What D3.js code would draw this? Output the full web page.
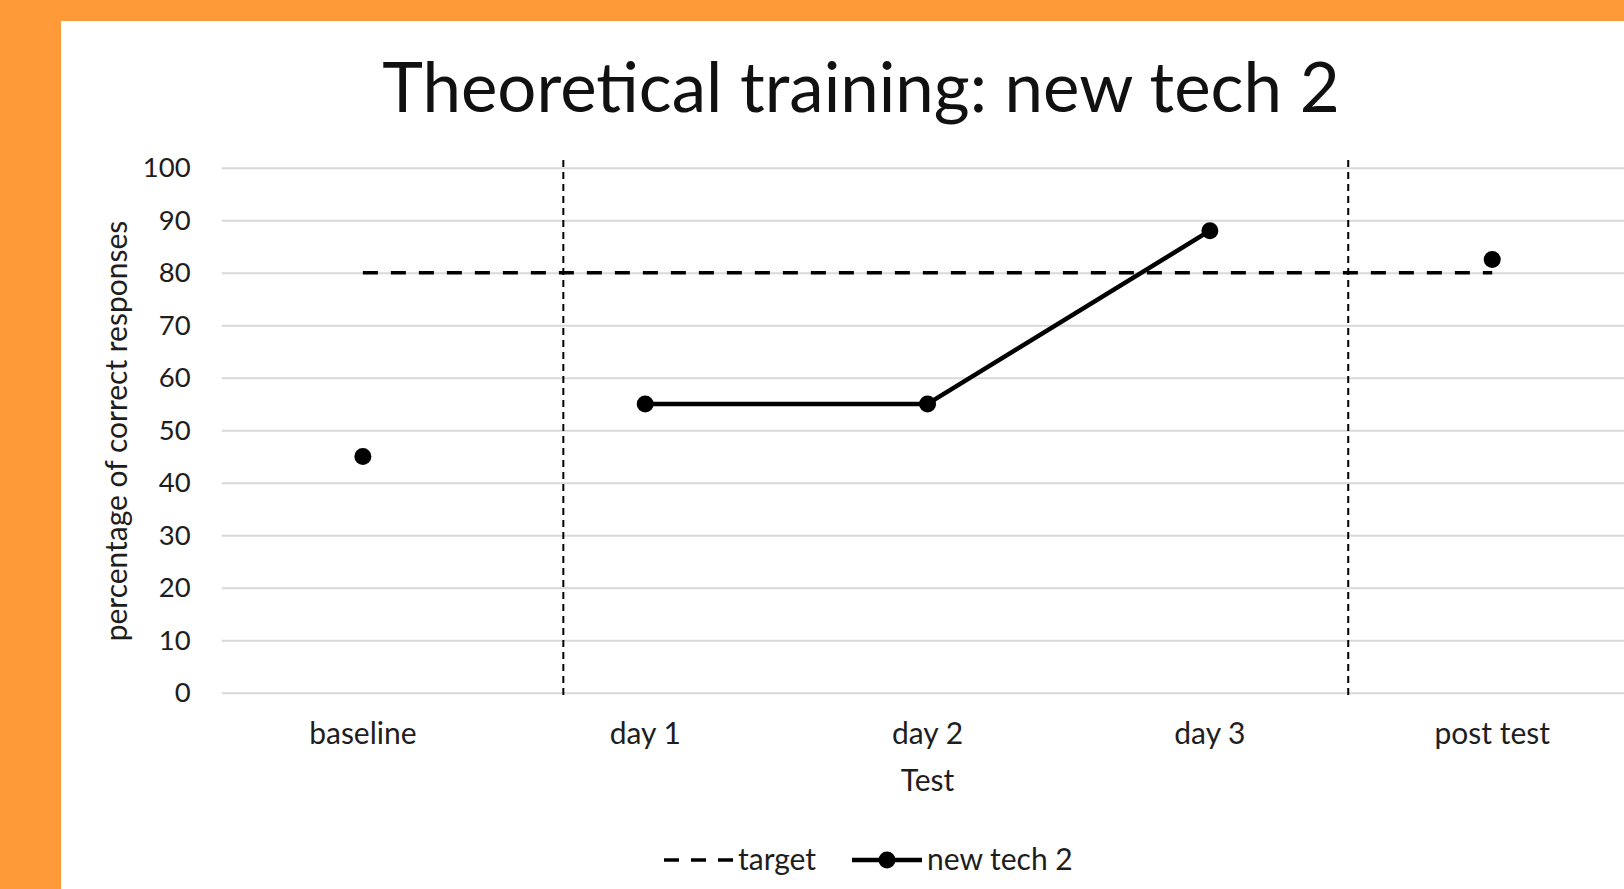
<!DOCTYPE html>
<html>
<head>
<meta charset="utf-8">
<script src="https://cdn.jsdelivr.net/npm/d3@7"></script>
<style>
  html, body { margin: 0; padding: 0; background: #FE9A37; }
  svg { display: block; }
  text { font-family: Lato, "Open Sans", sans-serif; }
</style>
</head>
<body>
<svg id="chart" width="1624" height="889"></svg>
<script>
// ---- data ----
const categories = ["baseline", "day 1", "day 2", "day 3", "post test"];
const newTech2 = [45, 55, 55, 88, 82.5];
const connected = [false, true, true, true, false]; // line drawn through day 1..day 3 only
const target = [80, 80, 80, 80, 80];
const yTicks = [0, 10, 20, 30, 40, 50, 60, 70, 80, 90, 100];
const phaseDividers = [0.71, 3.49]; // in category-index units
const titleText = "Theoretical training: new tech 2";
const xTitle = "Test";
const yTitle = "percentage of correct responses";
const legendLabels = ["target", "new tech 2"];

// ---- layout ----
const W = 1624, H = 889;
const panel = { x: 61, y: 21 };
const plot = { left: 221.7, top: 167.7, bottom: 692.7, right: 1633.4 };
const textColor = "#1e1e1e";
const labelSize = 30;

const svg = d3.select("#chart");
svg.append("rect").attr("x", 0).attr("y", 0).attr("width", W).attr("height", H).attr("fill", "#FE9A37");
svg.append("rect").attr("x", panel.x).attr("y", panel.y).attr("width", W - panel.x).attr("height", H - panel.y).attr("fill", "#ffffff");

const x = d3.scaleBand().domain(categories).range([plot.left, plot.right]).paddingInner(0).paddingOuter(0);
const xc = d => x(d) + x.bandwidth() / 2;
const xIdx = d3.scaleLinear().domain([0, categories.length - 1]).range([xc(categories[0]), xc(categories[categories.length - 1])]);
const y = d3.scaleLinear().domain([0, 100]).range([plot.bottom, plot.top]);

// Title
svg.append("text")
  .attr("x", 861).attr("y", 112)
  .attr("text-anchor", "middle")
  .attr("font-size", 69)
  .attr("fill", "#111")
  .text(titleText);

// gridlines + y axis labels
const yAxis = d3.axisLeft(y).tickValues(yTicks).tickSize(-(plot.right - plot.left)).tickPadding(31);
const gy = svg.append("g").attr("transform", `translate(${plot.left},0)`).call(yAxis);
gy.select(".domain").remove();
gy.selectAll(".tick line").attr("stroke", "#d9d9d9").attr("stroke-width", 2);
gy.selectAll(".tick text").attr("font-size", 27.5).attr("fill", textColor).attr("font-family", "Lato, sans-serif");

// x axis labels
const xAxis = d3.axisBottom(x).tickSize(0).tickPadding(30);
const gx = svg.append("g").attr("transform", `translate(0,${plot.bottom})`).call(xAxis);
gx.select(".domain").remove();
gx.selectAll(".tick text").attr("font-size", labelSize).attr("fill", textColor).attr("font-family", "Lato, sans-serif");

// axis titles
svg.append("text").attr("x", xc("day 2")).attr("y", 791)
  .attr("text-anchor", "middle").attr("font-size", labelSize).attr("fill", textColor).text(xTitle);
svg.append("text")
  .attr("transform", `translate(127,${431}) rotate(-90)`)
  .attr("text-anchor", "middle").attr("font-size", labelSize).attr("fill", textColor).text(yTitle);

// phase dividers
svg.append("g").selectAll("line").data(phaseDividers).join("line")
  .attr("x1", d => xIdx(d)).attr("x2", d => xIdx(d))
  .attr("y1", 160).attr("y2", 697)
  .attr("stroke", "#000").attr("stroke-width", 2).attr("stroke-dasharray", "7,5");

// target line
const targetLine = d3.line().x((d, i) => xc(categories[i])).y(d => y(d));
svg.append("path").datum(target).attr("d", targetLine)
  .attr("fill", "none").attr("stroke", "#000").attr("stroke-width", 3.5).attr("stroke-dasharray", "15,13");

// series line (only connected segment)
const seriesLine = d3.line()
  .defined((d, i) => connected[i])
  .x((d, i) => xc(categories[i])).y(d => y(d));
svg.append("path").datum(newTech2).attr("d", seriesLine)
  .attr("fill", "none").attr("stroke", "#000").attr("stroke-width", 4.5).attr("stroke-linejoin", "round");

svg.append("g").selectAll("circle").data(newTech2).join("circle")
  .attr("cx", (d, i) => xc(categories[i])).attr("cy", d => y(d)).attr("r", 8.5).attr("fill", "#000");

// legend
const lg = svg.append("g");
const ly = 860;
lg.append("line").attr("x1", 664).attr("x2", 733).attr("y1", ly).attr("y2", ly)
  .attr("stroke", "#000").attr("stroke-width", 3.5).attr("stroke-dasharray", "15,12");
lg.append("text").attr("x", 738).attr("y", ly + 10).attr("font-size", labelSize).attr("fill", textColor).text(legendLabels[0]);
lg.append("line").attr("x1", 852).attr("x2", 922).attr("y1", ly).attr("y2", ly)
  .attr("stroke", "#000").attr("stroke-width", 4.5);
lg.append("circle").attr("cx", 887).attr("cy", ly).attr("r", 8.5).attr("fill", "#000");
lg.append("text").attr("x", 927).attr("y", ly + 10).attr("font-size", labelSize).attr("fill", textColor).text(legendLabels[1]);
</script>
</body>
</html>
